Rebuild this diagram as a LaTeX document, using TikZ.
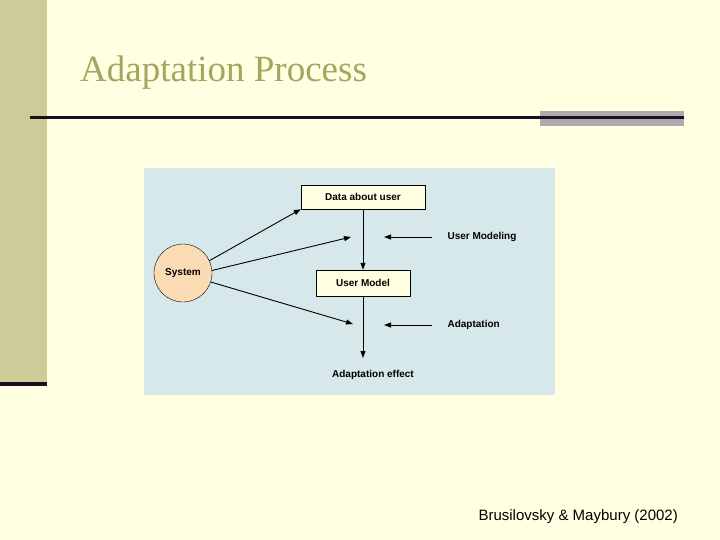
\documentclass[tikz,border=0pt]{standalone}
\usepackage{fontspec}
\setmainfont{Liberation Serif}
\newfontfamily\sans{Liberation Sans}
\usetikzlibrary{arrows.meta}
\definecolor{pagebg}{RGB}{255,255,225}
\definecolor{barc}{RGB}{204,204,153}
\definecolor{darkp}{RGB}{35,10,35}
\definecolor{grayc}{RGB}{175,170,175}
\definecolor{titlec}{RGB}{165,165,95}
\definecolor{diagbg}{RGB}{214,232,234}
\definecolor{sysc}{RGB}{250,220,180}
\definecolor{boxc}{RGB}{255,255,225}
\begin{document}
\begin{tikzpicture}[x=1pt,y=-1pt,
  box/.style={draw=black,fill=boxc,font=\sans\bfseries\fontsize{10}{12}\selectfont,inner sep=3pt},
  lbl/.style={font=\sans\bfseries\fontsize{10}{12}\selectfont,anchor=west},
  arr/.style={-{Triangle[length=7pt,width=5pt]},line width=0.9pt}]
\fill[pagebg] (0,0) rectangle (720,540);
\useasboundingbox (0,0) rectangle (720,540);
\fill[barc] (0,0) rectangle (47,385);
\fill[darkp] (0,382) rectangle (47,386);
\fill[grayc] (540,111) rectangle (684,126);
\fill[darkp] (30,116) rectangle (684,119);
\node[anchor=base west,text=titlec,font=\fontsize{37}{40}\selectfont,inner sep=0] (title) at (80,82) {Adaptation Process};
\fill[diagbg] (144,168) rectangle (555,395);
\node[circle,draw=black,fill=sysc,minimum size=58pt,inner sep=0,font=\sans\bfseries\fontsize{10}{12}\selectfont] (sys) at (183,273) {System};
\node[box,minimum width=124pt,minimum height=24pt] (data) at (363,197) {Data about user};
\node[box,minimum width=94pt,minimum height=26pt] (um) at (363,283) {User Model};
\node[font=\sans\bfseries\fontsize{10}{12}\selectfont] (eff) at (373,375) {Adaptation effect};
\node[lbl] (umod) at (444,237) {User Modeling};
\node[lbl] (adp) at (444,325) {Adaptation};
\coordinate (p1) at (351,237);
\coordinate (p2) at (353,324);
\coordinate (q1) at (384,237);
\coordinate (q2) at (384,325);
\coordinate (e1) at (363,358);
\draw[arr] (data) -- (um);
\draw[arr] (um) -- (e1);
\draw[arr] (umod.west) ++(-12,0) coordinate (r1) -- (q1);
\draw[arr] (adp.west) ++(-12,0) coordinate (r2) -- (q2);
\draw[arr] (sys.25) -- (data.south west);
\draw[arr] (sys.5) -- (p1);
\draw[arr] (sys.-18) -- (p2);
\node[anchor=base east,font=\sans\fontsize{15}{18}\selectfont,inner sep=0] (cite) at (678,520) {Brusilovsky \& Maybury (2002)};
\end{tikzpicture}
\end{document}
